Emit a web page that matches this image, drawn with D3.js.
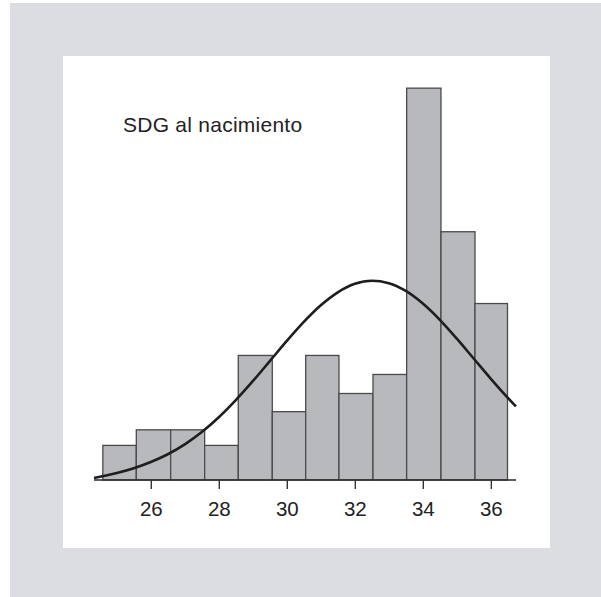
<!DOCTYPE html>
<html>
<head>
<meta charset="utf-8">
<script src="https://cdn.jsdelivr.net/npm/d3@7"></script>
<style>
  html, body { margin: 0; padding: 0; background: #ffffff; }
  svg { display: block; }
</style>
</head>
<body>
<svg id="chart" width="601" height="597"></svg>
<script>
// ---- data ----
const title = "SDG al nacimiento";
const binEdges = [24.59, 25.574, 26.584, 27.584, 28.573, 29.573, 30.555, 31.534, 32.534, 33.524, 34.534, 35.534, 36.49];
const counts = [2.0, 2.9, 2.9, 2.0, 7.2, 3.95, 7.2, 5.0, 6.1, 22.65, 14.35, 10.2];
const tickValues = [26, 28, 30, 32, 34, 36];
const curveX = [24.33, 25, 25.5, 26, 26.5, 27, 27.5, 28, 28.5, 29, 29.5, 30, 30.5, 31, 31.5, 32, 32.5, 33, 33.5, 34, 34.5, 35, 35.5, 36, 36.5, 36.74];
const curveY = [0.12, 0.4, 0.68, 1.04, 1.49, 2.06, 2.77, 3.63, 4.62, 5.71, 6.87, 8.04, 9.14, 10.10, 10.85, 11.34, 11.52, 11.38, 10.93, 10.20, 9.26, 8.17, 7.01, 5.85, 4.75, 4.25];

// ---- layout ----
const svg = d3.select("#chart");
svg.append("rect").attr("x", 10).attr("y", 3).attr("width", 591).attr("height", 594).attr("fill", "#dcdde0");
svg.append("rect").attr("x", 63).attr("y", 56).attr("width", 487).attr("height", 492).attr("fill", "#ffffff");

const x = d3.scaleLinear().domain([24.33, 36.74]).range([94, 516]);
const y = d3.scaleLinear().domain([0, 1]).range([480, 462.7]);

// bars
svg.append("g").selectAll("rect").data(counts).join("rect")
  .attr("x", (d, i) => x(binEdges[i]))
  .attr("width", (d, i) => x(binEdges[i + 1]) - x(binEdges[i]))
  .attr("y", d => y(d))
  .attr("height", d => y(0) - y(d))
  .attr("fill", "#b8b9bd")
  .attr("stroke", "#4a4a4a")
  .attr("stroke-width", 1.3);

// axis
const axis = d3.axisBottom(x).tickValues(tickValues).tickSize(9).tickPadding(12.5).tickFormat(d3.format("d"));
const gx = svg.append("g").attr("transform", "translate(0,480)").call(axis);
gx.select(".domain").attr("stroke", "#2a2a2a").attr("stroke-width", 1.6).attr("d", `M${x.range()[0]},0H${x.range()[1]}`);
gx.selectAll(".tick line").attr("stroke", "#333").attr("stroke-width", 1.4);
gx.selectAll(".tick text").attr("fill", "#222").attr("font-family", "Liberation Sans, Arial, sans-serif").attr("font-size", 20.5);

// curve
const line = d3.line().x((d, i) => x(curveX[i])).y(d => y(d)).curve(d3.curveMonotoneX);
svg.append("path").datum(curveY)
  .attr("d", line)
  .attr("fill", "none")
  .attr("stroke", "#1e1e1e")
  .attr("stroke-width", 2.6);

// title
svg.append("text").attr("x", 123).attr("y", 132.3)
  .attr("font-family", "Liberation Sans, Arial, sans-serif")
  .attr("font-size", 21).attr("letter-spacing", 0.25).attr("fill", "#222").text(title);
</script>
</body>
</html>
